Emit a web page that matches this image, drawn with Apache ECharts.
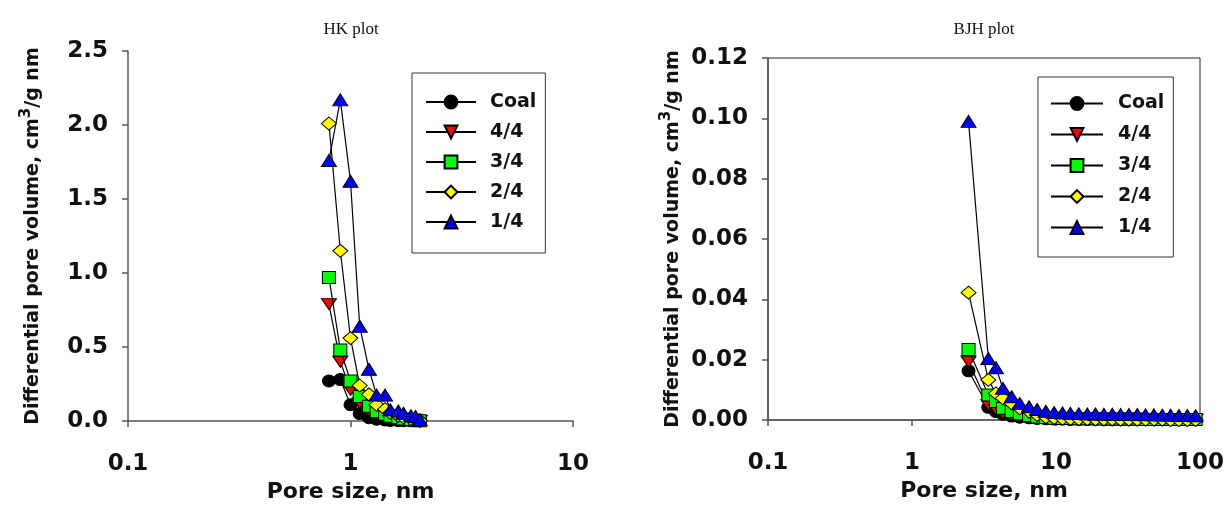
<!DOCTYPE html>
<html>
<head>
<meta charset="utf-8">
<script src="https://cdn.jsdelivr.net/npm/echarts@6/dist/echarts.min.js"></script>
<style>
  html, body { margin: 0; padding: 0; background: #ffffff; }
  #chart { width: 1226px; height: 506px; }
</style>
</head>
<body>
<div id="chart"></div>
<script>
// Sample names (legend order)
const sampleNames = ['Coal', '4/4', '3/4', '2/4', '1/4'];

// HK plot: pore size (nm) and differential pore volume (cm3/g nm)
const hkPoreSize = [0.80, 0.90, 1.00, 1.10, 1.21, 1.31, 1.43, 1.51, 1.64, 1.73, 1.87, 1.96, 2.05];
const hkCoal = [0.27, 0.28, 0.11, 0.05, 0.022, 0.012, 0.007, 0.004, 0.003, 0.002, 0.001, 0.001, 0.000];
const hk44   = [0.79, 0.40, 0.21, 0.12, 0.07, 0.045, 0.032, 0.022, 0.015, 0.010, 0.006, 0.003, 0.001];
const hk34   = [0.97, 0.48, 0.27, 0.165, 0.10, 0.065, 0.045, 0.032, 0.022, 0.014, 0.009, 0.005, 0.002];
const hk24   = [2.01, 1.15, 0.56, 0.24, 0.18, 0.11, 0.08, 0.055, 0.035, 0.025, 0.015, 0.008, 0.003];
const hk14   = [1.76, 2.17, 1.62, 0.64, 0.35, 0.175, 0.175, 0.076, 0.068, 0.052, 0.036, 0.030, 0.008];

// BJH plot: pore size (nm) and differential pore volume (cm3/g nm)
const bjhPoreSize = [2.47, 3.39, 3.83, 4.28, 4.92, 5.6, 6.5, 7.4, 8.5, 9.7, 11.1, 12.6, 14.4, 16.5,
                     18.8, 21.5, 24.6, 28.1, 32.1, 36.7, 41.9, 47.9, 54.7, 62.5, 71.4, 81.6, 93.2];
const bjhCoal = [0.0163, 0.0042, 0.0028, 0.0019, 0.0013, 0.0009, 0.0007, 0.0005, 0.0004, 0.0003, 0.0003, 0.0002, 0.0002, 0.0002,
                 0.0002, 0.0001, 0.0001, 0.0001, 0.0001, 0.0001, 0.0001, 0.0001, 0.0001, 0.0001, 0.0001, 0.0001, 0.0001];
const bjh44   = [0.0193, 0.0050, 0.0033, 0.0022, 0.0015, 0.0011, 0.0008, 0.0006, 0.0005, 0.0004, 0.0003, 0.0003, 0.0003, 0.0002,
                 0.0002, 0.0002, 0.0002, 0.0002, 0.0002, 0.0002, 0.0001, 0.0001, 0.0001, 0.0001, 0.0001, 0.0001, 0.0001];
const bjh34   = [0.0234, 0.0083, 0.0061, 0.0039, 0.0028, 0.0020, 0.0014, 0.0010, 0.0008, 0.0006, 0.0005, 0.0005, 0.0004, 0.0004,
                 0.0004, 0.0003, 0.0003, 0.0003, 0.0003, 0.0003, 0.0002, 0.0002, 0.0002, 0.0002, 0.0002, 0.0002, 0.0002];
const bjh24   = [0.0422, 0.0133, 0.0088, 0.0072, 0.0055, 0.0039, 0.0028, 0.0017, 0.0010, 0.0007, 0.0005, 0.0004, 0.0003, 0.0003,
                 0.0002, 0.0002, 0.0002, 0.0001, 0.0001, 0.0001, 0.0001, 0.0001, 0.0001, 0.0000, 0.0000, 0.0000, 0.0000];
const bjh14   = [0.0990, 0.0204, 0.0173, 0.0105, 0.0077, 0.0055, 0.0044, 0.0035, 0.0029, 0.0025, 0.0023, 0.0022, 0.0021, 0.0020,
                 0.0020, 0.0019, 0.0019, 0.0018, 0.0018, 0.0018, 0.0017, 0.0017, 0.0016, 0.0016, 0.0015, 0.0015, 0.0014];

// Axis tick settings
const hkXRange = [0.1, 10];
const bjhXRange = [0.1, 100];
const hkYTicks = { min: 0, max: 2.5, step: 0.5, digits: 1 };
const bjhYTicks = { min: 0, max: 0.12, step: 0.02, digits: 2 };

// Marker look per sample
const markerStyles = [
  { symbol: 'circle',   rotate: 0,   fill: '#000000', size: [13, 12] },
  { symbol: 'triangle', rotate: 180, fill: '#ff0000', size: [15, 11] },
  { symbol: 'rect',     rotate: 0,   fill: '#00ff00', size: [13, 12] },
  { symbol: 'diamond',  rotate: 0,   fill: '#ffff00', size: [15, 13] },
  { symbol: 'triangle', rotate: 0,   fill: '#0000ff', size: [15, 12] }
];

const FONT = '"DejaVu Sans", Verdana, sans-serif';
const AXIS_COLOR = '#555555';

function pairs(xs, ys) { return xs.map((x, i) => [x, ys[i]]); }

function buildSeries(xs, groups, axisIndex) {
  return groups.map((ys, k) => {
    const m = markerStyles[k];
    return {
      name: sampleNames[k],
      type: 'line',
      xAxisIndex: axisIndex,
      yAxisIndex: axisIndex,
      data: pairs(xs, ys),
      symbol: m.symbol,
      symbolRotate: m.rotate,
      symbolSize: m.size,
      showAllSymbol: true,
      lineStyle: { color: '#000000', width: 1.2 },
      itemStyle: { color: m.fill, borderColor: '#000000', borderWidth: 1 },
      emphasis: { disabled: true },
      animation: false,
      z: 2 + k
    };
  });
}

function logXAxis(gridIndex, range) {
  return {
    type: 'log', logBase: 10, gridIndex,
    min: range[0], max: range[1],
    name: 'Pore size, nm', nameLocation: 'middle', nameGap: 59, nameMoveOverlap: false,
    nameTextStyle: { fontFamily: FONT, fontWeight: 'bold', fontSize: 22, color: '#111', lineHeight: 25 },
    axisLine: { onZero: false, lineStyle: { color: AXIS_COLOR, width: 1.5 } },
    axisTick: { show: true, inside: false, length: 6, lineStyle: { color: AXIS_COLOR, width: 1.5 } },
    minorTick: { show: false },
    splitLine: { show: false },
    axisLabel: {
      margin: 32, fontFamily: FONT, fontWeight: 'bold', fontSize: 23, color: '#111',
      formatter: v => (v < 1 ? v.toFixed(1) : String(Math.round(v)))
    }
  };
}

function valueYAxis(gridIndex, t) {
  return {
    type: 'value', gridIndex,
    min: t.min, max: t.max, interval: t.step,
    name: 'Differential pore volume, cm{sup|3}/g nm',
    nameLocation: 'middle', nameGap: 81, nameRotate: 90, nameMoveOverlap: false,
    nameTextStyle: {
      fontFamily: FONT, fontWeight: 'bold', fontSize: 19, color: '#111', lineHeight: 28,
      rich: { sup: { fontFamily: FONT, fontWeight: 'bold', fontSize: 15, color: '#111', lineHeight: 15, verticalAlign: 'top' } }
    },
    axisLine: { show: true, onZero: false, lineStyle: { color: AXIS_COLOR, width: 1.5 } },
    axisTick: { show: true, inside: false, length: 6, lineStyle: { color: AXIS_COLOR, width: 1.5 } },
    splitLine: { show: false },
    axisLabel: {
      margin: 20, fontFamily: FONT, fontWeight: 'bold', fontSize: 23, color: '#111',
      formatter: v => v.toFixed(t.digits)
    }
  };
}

function legendBox(left, top, padding, itemWidth, textGap, rowHeight) {
  return {
    show: true,
    data: sampleNames.map(n => ({ name: n })),
    orient: 'vertical',
    left, top,
    padding,
    itemGap: 0,
    itemWidth, itemHeight: 16,
    borderColor: '#333333', borderWidth: 1, backgroundColor: '#ffffff',
    selectedMode: false,
    textStyle: { fontFamily: FONT, fontWeight: 'bold', fontSize: 19, color: '#111', lineHeight: rowHeight, padding: [0, 0, 0, textGap] }
  };
}

const chart = echarts.init(document.getElementById('chart'), null, { renderer: 'canvas' });

const hkSeries = buildSeries(hkPoreSize, [hkCoal, hk44, hk34, hk24, hk14], 0);
const bjhSeries = buildSeries(bjhPoreSize, [bjhCoal, bjh44, bjh34, bjh24, bjh14], 1);

chart.setOption({
  backgroundColor: '#ffffff',
  animation: false,
  textStyle: { fontFamily: FONT },
  graphic: [
    { type: 'text', x: 351, y: 30, style: { text: 'HK plot', fontFamily: '"Liberation Serif", "Times New Roman", serif', fontSize: 17, fill: '#111', align: 'center', verticalAlign: 'middle' } },
    { type: 'text', x: 984, y: 30, style: { text: 'BJH plot', fontFamily: '"Liberation Serif", "Times New Roman", serif', fontSize: 17, fill: '#111', align: 'center', verticalAlign: 'middle' } }
  ],
  grid: [
    { left: 128, top: 51, width: 445, height: 370, containLabel: false, outerBoundsMode: 'none', show: false },
    { left: 768, top: 58, width: 432, height: 362, containLabel: false, outerBoundsMode: 'none', show: true, borderColor: '#222222', borderWidth: 1, backgroundColor: 'transparent' }
  ],
  legend: [
    legendBox(412, 73, [14, 9, 16, 13], 50, 9, 30),
    legendBox(1038, 77, [11, 9, 14, 12], 52, 10, 31)
  ],
  xAxis: [logXAxis(0, hkXRange), logXAxis(1, bjhXRange)],
  yAxis: [valueYAxis(0, hkYTicks), valueYAxis(1, bjhYTicks)],
  series: hkSeries.concat(bjhSeries)
});
</script>
</body>
</html>
